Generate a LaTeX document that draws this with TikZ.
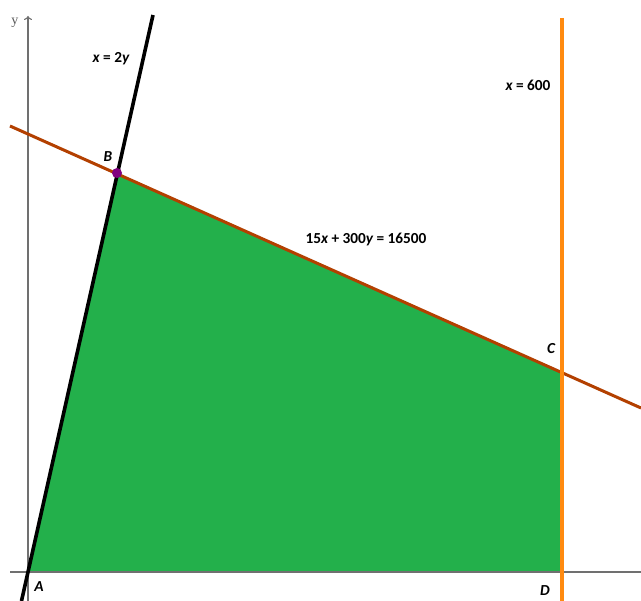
\documentclass[tikz,border=0pt]{standalone}
\usepackage{fontspec}
\usetikzlibrary{arrows.meta}
\setmainfont{Carlito}
\newfontfamily\serifax{Liberation Serif}
\definecolor{regiongreen}{HTML}{23B04B}
\definecolor{linebrown}{HTML}{B34000}
\definecolor{lineorange}{HTML}{FF8A10}
\definecolor{dotpurple}{HTML}{800080}
\definecolor{axisgray}{HTML}{707070}
\tikzset{
  lbl/.style={font=\fontsize{15.3}{18}\selectfont\bfseries, inner sep=0pt},
  axisline/.style={draw=axisgray, line width=1.1pt},
}
\begin{document}
\begin{tikzpicture}[x=1pt,y=-1pt]
\useasboundingbox[fill=white] (0,0) rectangle (641,601);
% points
\coordinate (A) at (28,572);
\coordinate (B) at (117,173);
\coordinate (C) at (562,372.5);
\coordinate (D) at (562,572);
% feasible region
\fill[regiongreen] (A) -- (B) -- (C) -- (D) -- cycle;
% axes
\coordinate (xl) at (10,572);
\coordinate (xr) at (641,572);
\coordinate (yb) at (28,601);
\coordinate (yt) at (28,16);
\draw[axisline] (xl) -- (xr);
\draw[axisline,-{To[length=4pt,width=8pt]}] (yb) -- (yt);
\node[font=\serifax\fontsize{14}{16}\selectfont, text=axisgray!80!black, inner sep=0pt] (ylab) at (15,23) {y};
% lines
\coordinate (k1) at (21.5,601);
\coordinate (k2) at (153,15);
\draw[black, line width=3.6pt] (k1) -- (k2);
\coordinate (r1) at (10,126);
\coordinate (r2) at (641,408);
\draw[linebrown, line width=3pt] (r1) -- (r2);
\coordinate (o1) at (562,18);
\coordinate (o2) at (562,601);
\draw[lineorange, line width=3.6pt] (o1) -- (o2);
% intersection dot
\fill[dotpurple] (B) circle (5pt);
% labels
\node[lbl] (lA) at (39,587) {\itshape A};
\node[lbl] (lB) at (108,157) {\itshape B};
\node[lbl] (lC) at (551,349) {\itshape C};
\node[lbl] (lD) at (545,591) {\itshape D};
\node[lbl] (l1) at (111,59) {\itshape x\upshape{} = 2\itshape y};
\node[lbl] (l2) at (528,85) {\itshape x\upshape{} = 600};
\node[lbl] (l3) at (366,239) {15\itshape x\upshape{} + 300\itshape y\upshape{} = 16500};
\end{tikzpicture}
\end{document}
